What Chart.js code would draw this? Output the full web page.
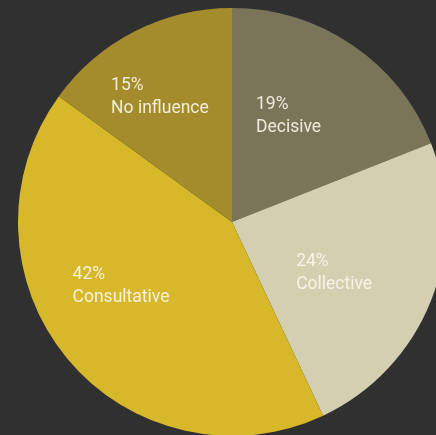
<!DOCTYPE html>
<html>
<head>
  <meta charset="UTF-8">
  <title>Influence pie</title>
  <script src="https://cdn.jsdelivr.net/npm/chart.js"></script>
  <style>
    html, body {
      margin: 0;
      padding: 0;
      background-color: #303030;
      overflow: hidden;
    }

    #wrap {
      position: relative;
      width: 436px;
      height: 435px;
      overflow: hidden;
    }

    #pie {
      position: absolute;
      left: 18px;
      top: 8px;
    }
  </style>
</head>
<body>
  <div id="wrap"><canvas id="pie" width="428" height="428"></canvas></div>

  <script>
    const categories = ['Decisive', 'Collective', 'Consultative', 'No influence'];
    const shares = [19, 24, 42, 15];
    const colours = ['#7a7558', '#d5cfb2', '#d8b82b', '#a48b2c'];

    // where each label block starts, as a fraction of the radius from the centre
    const labelAnchors = [[0.112, -0.528], [0.30, 0.205], [-0.745, 0.268], [-0.565, -0.617]];

    const sliceLabels = {
      id: 'sliceLabels',
      afterDatasetsDraw(chart) {
        const ctx = chart.ctx;
        const arcs = chart.getDatasetMeta(0).data;
        ctx.save();
        ctx.font = '17.5px Roboto, sans-serif';
        ctx.fillStyle = 'rgba(250, 247, 235, 0.9)';
        ctx.textAlign = 'left';
        ctx.textBaseline = 'alphabetic';
        arcs.forEach((arc, i) => {
          const r = arc.outerRadius;
          const x = arc.x + labelAnchors[i][0] * r;
          const y = arc.y + labelAnchors[i][1] * r;
          ctx.fillText(shares[i] + '%', x, y);
          ctx.fillText(categories[i], x, y + 23);
        });
        ctx.restore();
      }
    };

    new Chart(document.getElementById('pie'), {
      type: 'pie',
      data: {
        labels: categories,
        datasets: [{
          data: shares,
          backgroundColor: colours,
          borderWidth: 0
        }]
      },
      options: {
        responsive: false,
        animation: false,
        layout: { padding: 0 },
        plugins: {
          legend: { display: false },
          tooltip: { enabled: false }
        }
      },
      plugins: [sliceLabels]
    });
  </script>
</body>
</html>
